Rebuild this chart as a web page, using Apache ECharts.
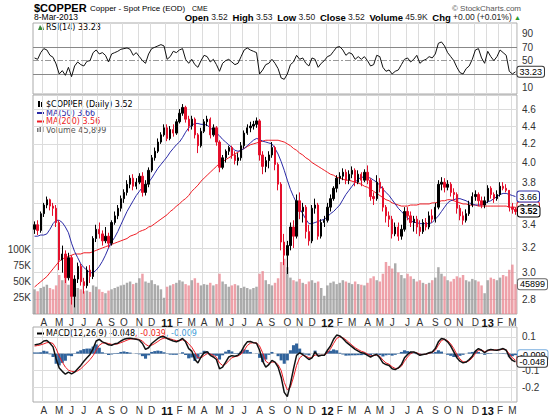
<!DOCTYPE html>
<html><head><meta charset="utf-8">
<script src="https://cdn.jsdelivr.net/npm/echarts@6/dist/echarts.min.js"></script>
<style>html,body{margin:0;padding:0;background:#fff}#c{width:550px;height:416px}</style>
</head><body><div id="c"></div>
<script>
// ---- data (weekly samples, week ending Friday, from 2010-03-12 to 2013-03-08) ----
const firstWeek = '2010-03-12';
const weekCount = 157;
const opens = [
3.36,3.40,3.35,3.50,3.58,3.63,3.57,3.55,3.42,3.10,
3.15,2.96,3.12,2.82,2.95,3.05,2.93,2.90,3.02,2.97,
3.28,3.36,3.32,3.26,3.30,3.24,3.42,3.48,3.55,3.64,
3.70,3.78,3.84,3.76,3.80,3.86,3.70,3.78,3.92,4.05,
4.12,4.22,4.30,4.38,4.26,4.36,4.32,4.45,4.55,4.62,
4.48,4.40,4.48,4.30,4.18,4.34,4.45,4.48,4.30,4.38,
4.22,3.95,4.05,4.12,4.16,4.08,4.02,4.05,4.18,4.32,
4.38,4.40,4.42,4.46,4.08,3.96,4.02,4.08,4.16,3.98,
3.78,3.25,3.14,3.22,3.38,3.30,3.62,3.52,3.56,3.34,
3.26,3.55,3.58,3.30,3.42,3.44,3.56,3.64,3.74,3.84,
3.86,3.90,3.82,3.88,3.92,3.80,3.88,3.82,3.90,3.82,
3.66,3.64,3.80,3.74,3.56,3.48,3.45,3.32,3.38,3.30,
3.36,3.52,3.48,3.42,3.45,3.38,3.34,3.42,3.38,3.48,
3.45,3.56,3.78,3.80,3.75,3.78,3.70,3.68,3.55,3.48,
3.44,3.50,3.58,3.66,3.68,3.62,3.58,3.62,3.74,3.68,
3.64,3.68,3.76,3.74,3.72,3.56,3.54];
const closes = [
3.40,3.35,3.50,3.58,3.63,3.57,3.55,3.42,3.10,3.15,
2.96,3.12,2.82,2.95,3.05,2.93,2.90,3.02,2.97,3.28,
3.36,3.32,3.26,3.30,3.24,3.42,3.48,3.55,3.64,3.70,
3.78,3.84,3.76,3.80,3.86,3.70,3.78,3.92,4.05,4.12,
4.22,4.30,4.38,4.26,4.36,4.32,4.45,4.55,4.62,4.48,
4.40,4.48,4.30,4.18,4.34,4.45,4.48,4.30,4.38,4.22,
3.95,4.05,4.12,4.16,4.08,4.02,4.05,4.18,4.32,4.38,
4.40,4.42,4.46,4.08,3.96,4.02,4.08,4.16,3.98,3.78,
3.25,3.14,3.22,3.38,3.30,3.62,3.52,3.56,3.34,3.26,
3.55,3.58,3.30,3.42,3.44,3.56,3.64,3.74,3.84,3.86,
3.90,3.82,3.88,3.92,3.80,3.88,3.82,3.90,3.82,3.66,
3.64,3.80,3.74,3.56,3.48,3.45,3.32,3.38,3.30,3.36,
3.52,3.48,3.42,3.45,3.38,3.34,3.42,3.38,3.48,3.45,
3.56,3.78,3.80,3.75,3.78,3.70,3.68,3.55,3.48,3.44,
3.50,3.58,3.66,3.68,3.62,3.58,3.62,3.74,3.68,3.64,
3.68,3.76,3.74,3.72,3.56,3.54,3.52];
const lows = [
3.32,3.31,3.33,3.47,3.55,3.53,3.48,3.38,3.02,3.00,
2.92,2.94,2.76,2.74,2.92,2.90,2.84,2.88,2.92,2.95,
3.25,3.28,3.22,3.24,3.20,3.22,3.40,3.45,3.52,3.60,
3.67,3.74,3.72,3.73,3.78,3.66,3.67,3.75,3.90,4.02,
4.10,4.20,4.28,4.23,4.24,4.28,4.30,4.43,4.52,4.44,
4.34,4.36,4.26,4.10,4.16,4.32,4.40,4.26,4.28,4.18,
3.90,3.93,4.00,4.08,4.04,3.98,3.97,4.02,4.15,4.30,
4.33,4.36,4.38,4.02,3.88,3.90,3.94,4.05,3.92,3.72,
3.18,3.06,2.99,3.18,3.20,3.28,3.45,3.42,3.28,3.22,
3.24,3.50,3.27,3.28,3.38,3.42,3.52,3.62,3.70,3.78,
3.82,3.78,3.78,3.84,3.76,3.78,3.76,3.80,3.78,3.62,
3.58,3.62,3.70,3.52,3.42,3.38,3.28,3.30,3.26,3.27,
3.34,3.44,3.38,3.34,3.32,3.30,3.32,3.35,3.36,3.42,
3.42,3.54,3.72,3.70,3.72,3.66,3.62,3.50,3.44,3.40,
3.42,3.48,3.56,3.62,3.57,3.55,3.55,3.60,3.64,3.60,
3.62,3.66,3.72,3.70,3.52,3.50,3.49];
const highs = [
3.43,3.44,3.52,3.60,3.66,3.64,3.60,3.58,3.44,3.22,
3.18,3.16,3.14,2.98,3.08,3.07,2.96,3.05,3.06,3.30,
3.40,3.42,3.35,3.38,3.33,3.44,3.52,3.58,3.67,3.73,
3.82,3.87,3.88,3.84,3.89,3.90,3.82,3.95,4.08,4.16,
4.26,4.33,4.42,4.42,4.40,4.42,4.48,4.60,4.66,4.64,
4.52,4.52,4.50,4.32,4.38,4.48,4.52,4.50,4.42,4.40,
4.24,4.08,4.14,4.18,4.18,4.12,4.10,4.22,4.35,4.42,
4.45,4.46,4.50,4.48,4.12,4.06,4.12,4.22,4.18,4.00,
3.80,3.32,3.26,3.42,3.44,3.68,3.70,3.60,3.58,3.40,
3.58,3.64,3.60,3.45,3.48,3.60,3.68,3.76,3.87,3.90,
3.94,3.93,3.92,3.96,3.94,3.92,3.90,3.93,3.97,3.84,
3.70,3.87,3.84,3.76,3.58,3.52,3.48,3.42,3.42,3.40,
3.56,3.56,3.52,3.48,3.48,3.44,3.45,3.46,3.52,3.54,
3.60,3.82,3.85,3.84,3.82,3.80,3.74,3.70,3.58,3.52,
3.54,3.62,3.70,3.72,3.70,3.66,3.66,3.77,3.76,3.70,
3.72,3.80,3.80,3.78,3.62,3.60,3.56];
const ma50 = [
3.30,3.30,3.31,3.31,3.32,3.36,3.41,3.44,3.44,3.42,
3.38,3.33,3.24,3.17,3.12,3.07,3.04,3.02,3.00,3.00,
3.02,3.05,3.09,3.14,3.20,3.25,3.29,3.34,3.40,3.46,
3.52,3.57,3.62,3.67,3.71,3.75,3.77,3.80,3.84,3.89,
3.94,3.98,4.02,4.06,4.11,4.15,4.19,4.22,4.27,4.33,
4.38,4.41,4.43,4.43,4.42,4.42,4.41,4.38,4.35,4.32,
4.29,4.25,4.22,4.19,4.16,4.13,4.12,4.13,4.15,4.18,
4.21,4.24,4.26,4.25,4.23,4.22,4.21,4.20,4.15,4.09,
4.01,3.92,3.82,3.73,3.66,3.60,3.55,3.50,3.45,3.41,
3.41,3.42,3.43,3.44,3.45,3.47,3.50,3.52,3.55,3.58,
3.63,3.68,3.72,3.76,3.80,3.83,3.85,3.85,3.85,3.84,
3.82,3.80,3.77,3.73,3.70,3.67,3.63,3.59,3.55,3.52,
3.49,3.46,3.44,3.42,3.42,3.41,3.41,3.41,3.41,3.42,
3.45,3.48,3.52,3.56,3.60,3.62,3.63,3.64,3.64,3.63,
3.62,3.60,3.59,3.58,3.58,3.58,3.59,3.61,3.62,3.64,
3.66,3.68,3.69,3.69,3.68,3.67,3.66];
const ma200 = [
2.89,2.91,2.93,2.95,2.97,3.00,3.03,3.06,3.09,3.11,
3.12,3.13,3.14,3.15,3.15,3.15,3.16,3.16,3.16,3.17,
3.18,3.19,3.20,3.21,3.22,3.23,3.24,3.25,3.26,3.27,
3.28,3.30,3.31,3.32,3.34,3.35,3.36,3.38,3.39,3.41,
3.43,3.45,3.47,3.49,3.52,3.54,3.57,3.59,3.62,3.64,
3.67,3.71,3.74,3.77,3.81,3.84,3.87,3.90,3.93,3.96,
3.99,4.01,4.03,4.05,4.07,4.09,4.11,4.13,4.15,4.17,
4.19,4.20,4.21,4.22,4.23,4.24,4.24,4.24,4.24,4.24,
4.23,4.22,4.20,4.18,4.15,4.13,4.10,4.08,4.05,4.03,
4.00,3.98,3.96,3.94,3.92,3.90,3.88,3.87,3.85,3.84,
3.83,3.82,3.82,3.81,3.80,3.79,3.78,3.76,3.75,3.73,
3.71,3.69,3.67,3.65,3.63,3.62,3.60,3.59,3.58,3.57,
3.57,3.57,3.58,3.58,3.58,3.59,3.59,3.59,3.59,3.60,
3.60,3.61,3.62,3.62,3.63,3.63,3.62,3.61,3.60,3.59,
3.59,3.58,3.58,3.58,3.57,3.57,3.57,3.57,3.57,3.57,
3.57,3.57,3.57,3.57,3.56,3.56,3.56];
const volumeK = [
38,35,40,42,45,40,38,44,60,52,
55,45,58,50,40,38,35,36,34,44,
42,38,34,32,36,38,40,42,44,45,
48,50,46,48,55,62,50,48,52,46,
44,38,25,42,44,46,48,52,50,46,
44,52,55,48,44,46,45,48,44,46,
62,50,46,42,44,46,44,40,42,40,
38,40,42,62,66,52,46,44,48,55,
80,85,72,56,52,50,54,48,46,50,
52,48,50,40,28,44,48,50,46,48,
52,50,48,46,50,46,45,44,48,55,
58,52,50,62,80,74,70,78,64,60,
55,62,58,54,50,52,48,46,48,52,
56,72,62,58,52,50,54,58,56,60,
52,50,54,52,50,44,32,52,56,54,
52,56,60,58,68,76,45.9];
const rsi14 = [
54,52,62,68,66,58,55,45,30,35,
28,40,26,42,48,44,42,49,50,62,
66,60,62,58,48,60,62,64,67,68,
69,67,58,62,56,50,46,60,68,70,
72,74,72,52,56,64,62,66,68,52,
46,52,44,40,50,58,56,48,52,44,
34,46,50,52,48,44,46,56,66,69,
66,64,62,30,36,44,46,52,46,38,
24,22,30,44,48,58,52,54,46,42,
54,52,40,46,50,56,58,64,70,71,
66,58,62,60,52,56,52,56,50,42,
44,58,56,40,34,36,30,34,36,44,
52,54,48,52,58,46,50,52,56,54,
60,76,78,72,62,56,50,40,32,30,
38,42,52,66,68,54,46,64,56,50,
56,66,62,58,34,30,33.23];
const macdLine = [
0.052,0.055,0.060,0.075,0.078,0.062,0.040,-0.030,-0.085,-0.105,
-0.122,-0.110,-0.120,-0.110,-0.090,-0.070,-0.045,-0.025,-0.005,0.030,
0.075,0.085,0.070,0.062,0.052,0.050,0.058,0.062,0.075,0.085,
0.090,0.092,0.088,0.085,0.080,0.060,0.025,0.035,0.060,0.075,
0.090,0.100,0.100,0.090,0.082,0.075,0.070,0.078,0.090,0.070,
0.030,0.015,-0.035,-0.055,-0.020,0.005,0.012,-0.010,-0.020,-0.035,
-0.090,-0.080,-0.050,-0.020,-0.012,-0.015,-0.010,0.010,0.045,0.070,
0.072,0.065,0.062,0.020,-0.045,-0.080,-0.065,-0.040,-0.050,-0.080,
-0.140,-0.230,-0.255,-0.180,-0.090,-0.010,0.005,-0.005,-0.020,-0.035,
-0.025,0.010,-0.015,-0.010,-0.010,0.020,0.045,0.085,0.110,0.105,
0.090,0.070,0.055,0.040,0.025,0.015,0.005,0.002,-0.010,-0.020,
-0.010,-0.005,-0.025,-0.055,-0.065,-0.070,-0.090,-0.095,-0.085,-0.065,
-0.025,-0.005,0.010,0.010,0.002,-0.010,-0.005,-0.002,0.005,0.010,
0.030,0.070,0.090,0.085,0.070,0.045,0.010,-0.025,-0.045,-0.055,
-0.050,-0.035,-0.015,0.015,0.030,0.020,0.005,0.020,0.025,0.022,
0.020,0.025,0.030,0.020,-0.020,-0.040,-0.048];
const signalLine = [
0.045,0.048,0.052,0.058,0.065,0.066,0.060,0.030,-0.015,-0.050,
-0.080,-0.098,-0.105,-0.108,-0.102,-0.090,-0.072,-0.055,-0.035,-0.012,
0.020,0.050,0.062,0.064,0.060,0.055,0.055,0.058,0.065,0.072,
0.080,0.086,0.088,0.087,0.084,0.075,0.055,0.045,0.050,0.060,
0.072,0.085,0.092,0.092,0.088,0.082,0.077,0.077,0.082,0.078,
0.058,0.038,0.008,-0.025,-0.025,-0.012,0.000,-0.002,-0.010,-0.022,
-0.055,-0.070,-0.062,-0.042,-0.025,-0.018,-0.014,-0.003,0.020,0.048,
0.062,0.065,0.064,0.045,0.005,-0.045,-0.058,-0.050,-0.050,-0.065,
-0.100,-0.170,-0.215,-0.200,-0.140,-0.070,-0.025,-0.010,-0.014,-0.025,
-0.025,-0.008,-0.010,-0.010,-0.010,0.005,0.028,0.060,0.090,0.100,
0.095,0.082,0.066,0.050,0.035,0.024,0.014,0.008,-0.002,-0.012,
-0.012,-0.008,-0.016,-0.038,-0.055,-0.063,-0.078,-0.088,-0.087,-0.075,
-0.045,-0.020,0.000,0.008,0.005,-0.004,-0.005,-0.003,0.002,0.007,
0.020,0.050,0.078,0.085,0.077,0.058,0.030,-0.005,-0.032,-0.048,
-0.050,-0.042,-0.025,0.000,0.020,0.022,0.012,0.016,0.022,0.022,
0.021,0.023,0.027,0.023,-0.002,-0.025,-0.039];
const macdHist = [
0.007,0.007,0.008,0.017,0.013,-0.004,-0.020,-0.060,-0.070,-0.055,
-0.042,-0.012,-0.015,-0.002,0.012,0.020,0.027,0.030,0.030,0.042,
0.055,0.035,0.008,-0.002,-0.008,-0.005,0.003,0.004,0.010,0.013,
0.010,0.006,0.000,-0.002,-0.004,-0.015,-0.030,-0.010,0.010,0.015,
0.018,0.015,0.008,-0.002,-0.006,-0.007,-0.007,0.001,0.008,-0.008,
-0.028,-0.023,-0.043,-0.030,0.005,0.017,0.012,-0.008,-0.010,-0.013,
-0.035,-0.010,0.012,0.022,0.013,0.003,0.004,0.013,0.025,0.022,
0.010,0.000,-0.002,-0.025,-0.050,-0.035,-0.007,0.010,0.000,-0.015,
-0.040,-0.060,-0.040,0.020,0.050,0.060,0.030,0.005,-0.006,-0.010,
0.000,0.018,-0.005,0.000,0.000,0.015,0.017,0.025,0.020,0.005,
-0.005,-0.012,-0.011,-0.010,-0.010,-0.009,-0.009,-0.006,-0.008,-0.008,
0.002,0.003,-0.009,-0.017,-0.010,-0.007,-0.012,-0.007,0.002,0.010,
0.020,0.015,0.010,0.002,-0.003,-0.006,0.000,0.001,0.003,0.003,
0.010,0.020,0.012,0.000,-0.007,-0.013,-0.020,-0.020,-0.013,-0.007,
0.000,0.007,0.010,0.015,0.010,-0.002,-0.007,0.004,0.003,0.000,
-0.001,0.002,0.003,-0.003,-0.018,-0.015,-0.009];
// grid lines and the labels visible beside the axis (labels under the value boxes are hidden in the reference)
const priceGrid = [2.8,3.0,3.2,3.4,3.6,3.8,4.0,4.2,4.4,4.6];
const priceTicks = [2.8,3.0,3.2,3.4,3.8,4.0,4.2,4.4,4.6];
const volumeTicks = [25,50,75,100];
const rsiTicks = [10,50,70,90];
const macdGrid = [0.1,0,-0.1,-0.2];
const macdTicks = [0.1,-0.1,-0.2];
const monthLetters = ['J','F','M','A','M','J','J','A','S','O','N','D'];

// ---- categories ----
const dates = [];
const t0 = Date.parse(firstWeek + 'T00:00:00Z');
for (let i = 0; i < weekCount; i++) dates.push(new Date(t0 + i * 7 * 86400000).toISOString().slice(0, 10));
const monthStart = dates.map((d, i) => i > 0 && d.slice(5, 7) !== dates[i - 1].slice(5, 7));
const last = weekCount - 1;

const FONT = 'Liberation Sans, Arial, sans-serif';
const LEG = 'DejaVu Sans, Verdana, sans-serif';
const candleData = dates.map((d, i) => [opens[i], closes[i], lows[i], highs[i]]);
const volData = volumeK.map((v, i) => ({value: v, itemStyle: {color: closes[i] >= opens[i] ? 'rgba(150,150,150,0.8)' : 'rgba(232,130,140,0.75)'}}));

function monthLabel(v) {
  const m = +v.slice(5, 7) - 1;
  return m === 0 ? '{y|' + v.slice(2, 4) + '}' : monthLetters[m];
}
function xAx(g, showLabels) {
  return {
    type: 'category', gridIndex: g, data: dates, boundaryGap: true,
    axisLine: {show: false}, axisTick: {show: false},
    axisLabel: {show: showLabels, interval: (i) => monthStart[i], formatter: monthLabel, margin: 3,
      fontSize: 10, color: '#333', fontFamily: FONT, rich: {y: {fontWeight: 'bold', fontSize: 11, color: '#111', fontFamily: FONT}}},
    splitLine: {show: true, interval: (i) => monthStart[i], lineStyle: {color: '#dcdcdc', width: 1}}
  };
}
function boxLabel(text, border, bold) {
  return {show: true, formatter: text, distance: 2, backgroundColor: '#fff', borderColor: border, borderWidth: 1,
    borderRadius: 2, padding: [0, 2, 0, 2], fontSize: 9, lineHeight: 10, color: '#000', fontWeight: bold ? 'bold' : 'normal', fontFamily: FONT};
}
function boxPoint(x, y, text, border, bold, z) {
  return {symbol: 'rect', symbolSize: [1, 1], itemStyle: {color: 'rgba(0,0,0,0)'}, silent: true, z: z,
    label: Object.assign(boxLabel(text, border, bold), {position: 'right'}), data: [{coord: [x, y], value: text}]};
}
const yLab = {fontSize: 10, color: '#333', fontFamily: FONT, margin: 5};

const chart = echarts.init(document.getElementById('c'), null, {renderer: 'svg'});
chart.setOption({
  animation: false,
  backgroundColor: '#fff',
  grid: [
    {left: 33, width: 484, top: 23, height: 71, show: true, borderColor: '#aaa', borderWidth: 1, backgroundColor: '#fff'},
    {left: 33, width: 484, top: 95, height: 219, show: true, borderColor: '#aaa', borderWidth: 1, backgroundColor: '#fff'},
    {left: 33, width: 484, top: 327, height: 76, show: true, borderColor: '#aaa', borderWidth: 1, backgroundColor: '#fff'}
  ],
  xAxis: [xAx(0, false), xAx(1, true), xAx(2, true)],
  yAxis: [
    {type: 'value', gridIndex: 0, position: 'right', min: 0, max: 106.4,
      axisLine: {show: false}, axisTick: {show: false, customValues: rsiTicks},
      axisLabel: Object.assign({customValues: rsiTicks}, yLab), splitLine: {show: false}},
    {type: 'log', logBase: 10, gridIndex: 1, position: 'right', min: 2.693, max: 4.772,
      axisLine: {show: false}, axisTick: {show: false, customValues: priceGrid},
      axisLabel: Object.assign({customValues: priceTicks, formatter: (v) => v.toFixed(1)}, yLab),
      splitLine: {show: true, lineStyle: {color: '#dcdcdc'}}},
    {type: 'value', gridIndex: 1, position: 'left', min: 0, max: 337,
      axisLine: {show: false}, axisTick: {show: false, customValues: volumeTicks},
      axisLabel: Object.assign({}, yLab, {customValues: volumeTicks, formatter: (v) => v + 'K', margin: 2}),
      splitLine: {show: false}},
    {type: 'value', gridIndex: 2, position: 'right', min: -0.287, max: 0.158,
      axisLine: {show: false}, axisTick: {show: false, customValues: macdGrid},
      axisLabel: Object.assign({customValues: macdTicks, formatter: (v) => String(v)}, yLab),
      splitLine: {show: true, lineStyle: {color: '#dcdcdc'}}}
  ],
  series: [
    {type: 'line', name: 'RSI', xAxisIndex: 0, yAxisIndex: 0, data: rsi14, symbol: 'none',
      lineStyle: {color: '#111', width: 1}, z: 5,
      endLabel: boxLabel('33.23', '#333', false),
      markLine: {silent: true, symbol: 'none', label: {show: false},
        data: [
          {yAxis: 70, lineStyle: {color: '#888', type: 'solid', width: 1}},
          {yAxis: 30, lineStyle: {color: '#888', type: 'solid', width: 1}},
          {yAxis: 50, lineStyle: {color: '#999', type: [6, 2, 2, 2], width: 1}}
        ]}},
    {type: 'bar', name: 'Volume', xAxisIndex: 1, yAxisIndex: 2, data: volData, barWidth: '80%', z: 1,
      markPoint: boxPoint(dates[last], 45.9, '45899', '#666', false, 5)},
    {type: 'line', name: 'MA(200)', xAxisIndex: 1, yAxisIndex: 1, data: ma200, symbol: 'none', z: 3,
      lineStyle: {color: '#ee1c24', width: 1}, endLabel: boxLabel('3.56', '#ee1c24', false)},
    {type: 'line', name: 'MA(50)', xAxisIndex: 1, yAxisIndex: 1, data: ma50, symbol: 'none', z: 4,
      lineStyle: {color: '#2a2aa6', width: 1}, endLabel: boxLabel('3.66', '#2a2aa6', false)},
    {type: 'candlestick', name: '$COPPER', xAxisIndex: 1, yAxisIndex: 1, data: candleData, barWidth: '60%', z: 5,
      itemStyle: {color: '#000', color0: '#e4102c', borderColor: '#000', borderColor0: '#e4102c', borderWidth: 1},
      markPoint: boxPoint(dates[last], 3.52, '3.52', '#000', true, 20)},
    {type: 'bar', name: 'Hist', xAxisIndex: 2, yAxisIndex: 3, data: macdHist, barWidth: '100%', z: 2,
      itemStyle: {color: '#30639c'}, markPoint: boxPoint(dates[last], -0.009, '-0.009', '#79aee0', false, 5.5)},
    {type: 'line', name: 'Signal', xAxisIndex: 2, yAxisIndex: 3, data: signalLine, symbol: 'none', z: 5,
      lineStyle: {color: '#ee1c24', width: 1}, endLabel: boxLabel('-0.039', '#ee1c24', false)},
    {type: 'line', name: 'MACD', xAxisIndex: 2, yAxisIndex: 3, data: macdLine, symbol: 'none', z: 6,
      lineStyle: {color: '#111', width: 1.5}, endLabel: boxLabel('-0.048', '#333', false)}
  ],
  graphic: [
    {type: 'text', x: 34, y: 8, style: {text: '$COPPER', font: 'bold 11px ' + FONT, fill: '#000', textVerticalAlign: 'middle'}},
    {type: 'text', x: 90, y: 8.5, style: {text: 'Copper - Spot Price (EOD)', font: '8px ' + FONT, fill: '#000', textVerticalAlign: 'middle'}},
    {type: 'text', x: 192, y: 8.5, style: {text: 'CME', font: '7px ' + FONT, fill: '#000', textVerticalAlign: 'middle'}},
    {type: 'text', x: 521, y: 8, style: {text: '\u00a9 StockCharts.com', font: '8px ' + FONT, fill: '#555', textAlign: 'right', textVerticalAlign: 'middle'}},
    {type: 'text', x: 34, y: 17, style: {text: '8-Mar-2013', font: '8.5px ' + FONT, fill: '#000', textVerticalAlign: 'middle'}},
    {type: 'text', x: 521, y: 17, style: {
      text: '{b|Open} 3.52  {b|High} 3.53  {b|Low} 3.50  {b|Close} 3.52  {b|Volume} 45.9K  {b|Chg} +0.00 (+0.01%) {g|\u25b2}',
      font: '8.5px ' + FONT, fill: '#222', textAlign: 'right', textVerticalAlign: 'middle',
      rich: {b: {fontWeight: 'bold', fontSize: 9.5, fontFamily: FONT, fill: '#000'}, g: {fill: '#2a9a2a', fontSize: 7}}}},
    // RSI legend
    {type: 'polygon', shape: {points: [[38, 30], [40, 25], [42, 28], [43, 26], [44, 30]]}, style: {fill: '#3a8a3a'}},
    {type: 'text', x: 46, y: 27.5, style: {text: 'RSI(14) 33.23', font: '8px ' + LEG, fill: '#000', textVerticalAlign: 'middle'}},
    // main legend
    {type: 'rect', shape: {x: 38, y: 101, width: 2, height: 6}, style: {fill: '#000'}},
    {type: 'rect', shape: {x: 41, y: 102, width: 2, height: 5}, style: {fill: '#000'}},
    {type: 'text', x: 46, y: 104.5, style: {text: '$COPPER (Daily) 3.52', font: '8px ' + LEG, fill: '#000', textVerticalAlign: 'middle'}},
    {type: 'line', shape: {x1: 37, y1: 113, x2: 44, y2: 113}, style: {stroke: '#2a2aa6', lineWidth: 2}},
    {type: 'text', x: 46, y: 113, style: {text: 'MA(50) 3.66', font: '8px ' + LEG, fill: '#2a2aa6', textVerticalAlign: 'middle'}},
    {type: 'line', shape: {x1: 37, y1: 121.5, x2: 44, y2: 121.5}, style: {stroke: '#ee1c24', lineWidth: 2}},
    {type: 'text', x: 46, y: 121.5, style: {text: 'MA(200) 3.56', font: '8px ' + LEG, fill: '#ee1c24', textVerticalAlign: 'middle'}},
    {type: 'rect', shape: {x: 37, y: 128, width: 1.5, height: 4}, style: {fill: '#777'}},
    {type: 'rect', shape: {x: 39.5, y: 126, width: 1.5, height: 6}, style: {fill: '#777'}},
    {type: 'rect', shape: {x: 42, y: 127, width: 1.5, height: 5}, style: {fill: '#777'}},
    {type: 'text', x: 46, y: 130, style: {text: 'Volume 45,899', font: '8px ' + LEG, fill: '#555', textVerticalAlign: 'middle'}},
    // MACD legend
    {type: 'line', shape: {x1: 37, y1: 333.5, x2: 44, y2: 333.5}, style: {stroke: '#000', lineWidth: 2}},
    {type: 'text', x: 46, y: 333.5, style: {
      text: 'MACD(12,26,9) -0.048{r|, -0.039}{c|, -0.009}', font: '8px ' + LEG, fill: '#000', textVerticalAlign: 'middle',
      rich: {r: {fill: '#ee1c24', fontSize: 8, fontFamily: LEG}, c: {fill: '#3b9ad6', fontSize: 8, fontFamily: LEG}}}}
  ]
});
</script>
</body></html>
